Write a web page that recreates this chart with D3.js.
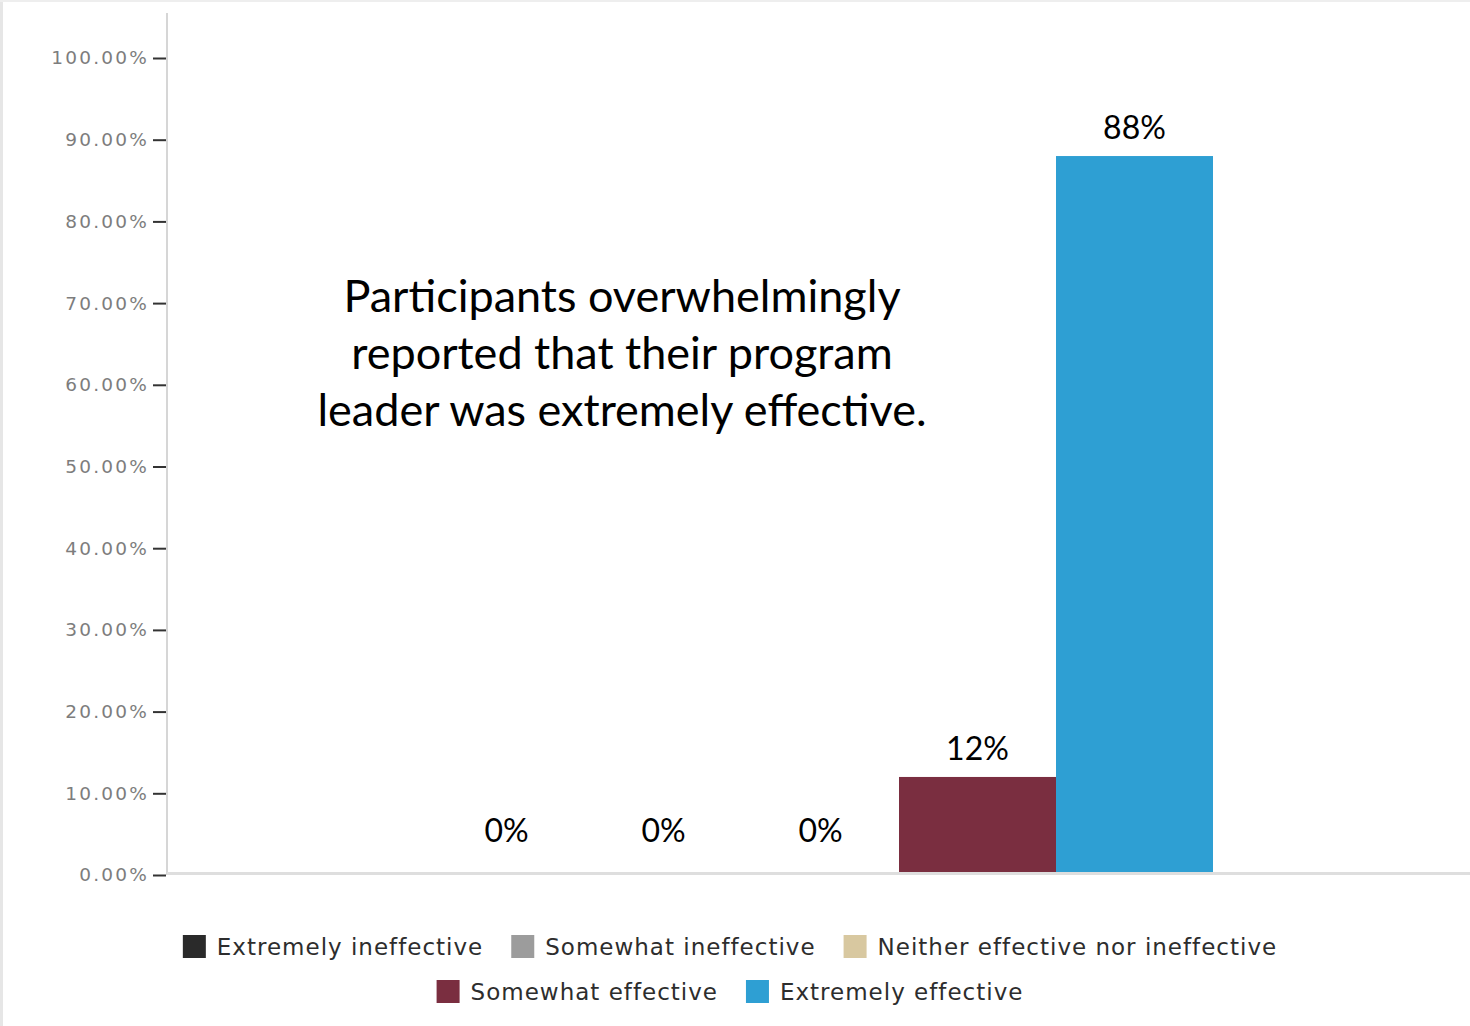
<!DOCTYPE html>
<html>
<head>
<meta charset="utf-8">
<script src="https://cdn.jsdelivr.net/npm/d3@7"></script>
<style>
  html, body { margin: 0; padding: 0; background: #fff; }
  svg { display: block; }
</style>
</head>
<body>
<svg id="chart" width="1470" height="1026"></svg>
<script>
// Survey responses: how effective was the program leader?
const categories = [
  "Extremely ineffective",
  "Somewhat ineffective",
  "Neither effective nor ineffective",
  "Somewhat effective",
  "Extremely effective"
];
const values = [0, 0, 0, 12, 88];           // percent of participants
const valueLabels = ["0%", "0%", "0%", "12%", "88%"];
const colors = ["#2a2a2a", "#9c9c9c", "#d8c8a0", "#7a2e40", "#2e9fd3"];
const yTicks = [0, 10, 20, 30, 40, 50, 60, 70, 80, 90, 100];
const noteLines = [
  "Participants overwhelmingly",
  "reported that their program",
  "leader was extremely effective."
];

const svg = d3.select("#chart");
const W = 1470, H = 1026;

// light frame on the left and top edges
svg.append("line").attr("x1", 1.5).attr("x2", 1.5).attr("y1", 0).attr("y2", H)
  .attr("stroke", "#e6e6e6").attr("stroke-width", 3);
svg.append("line").attr("x1", 0).attr("x2", W).attr("y1", 1).attr("y2", 1)
  .attr("stroke", "#eeeeee").attr("stroke-width", 2);

const axisX = 167;
const y = d3.scaleLinear().domain([0, 100]).range([875, 58]);
const x = d3.scaleBand().domain(categories).range([428, 1213]).padding(0);

// y axis
const yAxis = d3.axisLeft(y)
  .tickValues(yTicks)
  .tickSize(13)
  .tickPadding(4)
  .tickFormat(d => d3.format(".2f")(d) + "%");

const gy = svg.append("g").attr("transform", `translate(${axisX - 1},0)`).call(yAxis);
gy.select(".domain").remove();
gy.selectAll(".tick line").attr("stroke", "#333").attr("stroke-width", 2);
gy.selectAll(".tick text")
  .attr("fill", "#7d7d7d")
  .style("font-family", "'DejaVu Sans', sans-serif")
  .style("font-size", "18.5px")
  .style("letter-spacing", "2.2px");

// vertical axis line
svg.append("line")
  .attr("x1", axisX).attr("x2", axisX)
  .attr("y1", 13).attr("y2", y(0))
  .attr("stroke", "#c8c8c8").attr("stroke-width", 1.5);

// bars
svg.append("g").selectAll("rect")
  .data(categories)
  .join("rect")
  .attr("x", d => x(d))
  .attr("width", x.bandwidth())
  .attr("y", (d, i) => y(values[i]))
  .attr("height", (d, i) => y(0) - y(values[i]))
  .attr("fill", (d, i) => colors[i]);

// baseline
svg.append("line")
  .attr("x1", axisX).attr("x2", W)
  .attr("y1", y(0) - 1.5).attr("y2", y(0) - 1.5)
  .attr("stroke", "#dedede").attr("stroke-width", 3);

// value labels above each bar
svg.append("g").selectAll("text")
  .data(categories)
  .join("text")
  .attr("x", d => x(d) + x.bandwidth() / 2)
  .attr("y", (d, i) => Math.min(y(values[i]), y(0) - 16) - 17)
  .attr("text-anchor", "middle")
  .attr("fill", "#000")
  .style("font-family", "Lato, 'Open Sans', sans-serif")
  .style("font-size", "32px")
  .text((d, i) => valueLabels[i]);

// annotation
const note = svg.append("text")
  .attr("text-anchor", "middle")
  .attr("fill", "#000")
  .style("font-family", "Lato, 'Open Sans', sans-serif")
  .style("font-size", "45px");
note.selectAll("tspan")
  .data(noteLines)
  .join("tspan")
  .attr("x", 622)
  .attr("y", (d, i) => 312 + i * 57)
  .text(d => d);

// legend, wrapped into centered rows
const legendFont = "'DejaVu Sans', sans-serif";
const sw = 23, swGap = 11, itemGap = 28, maxRow = 1150;
const lg = svg.append("g");
const items = categories.map((c, i) => {
  const g = lg.append("g");
  g.append("rect").attr("width", sw).attr("height", sw).attr("fill", colors[i]);
  const t = g.append("text")
    .attr("x", sw + swGap).attr("y", sw / 2).attr("dy", "0.36em")
    .attr("fill", "#2d2d2d")
    .style("font-family", legendFont)
    .style("font-size", "23px")
    .style("letter-spacing", "1px")
    .text(c);
  return { g, w: sw + swGap + t.node().getComputedTextLength() };
});
const rows = [[]];
let rowW = 0;
items.forEach(it => {
  const add = (rows[rows.length - 1].length ? itemGap : 0) + it.w;
  if (rowW + add > maxRow) { rows.push([it]); rowW = it.w; }
  else { rows[rows.length - 1].push(it); rowW += add; }
});
rows.forEach((row, r) => {
  const total = d3.sum(row, d => d.w) + itemGap * (row.length - 1);
  let cx = 730 - total / 2;
  row.forEach(it => {
    it.g.attr("transform", `translate(${cx},${935 + r * 45})`);
    cx += it.w + itemGap;
  });
});
</script>
</body>
</html>
